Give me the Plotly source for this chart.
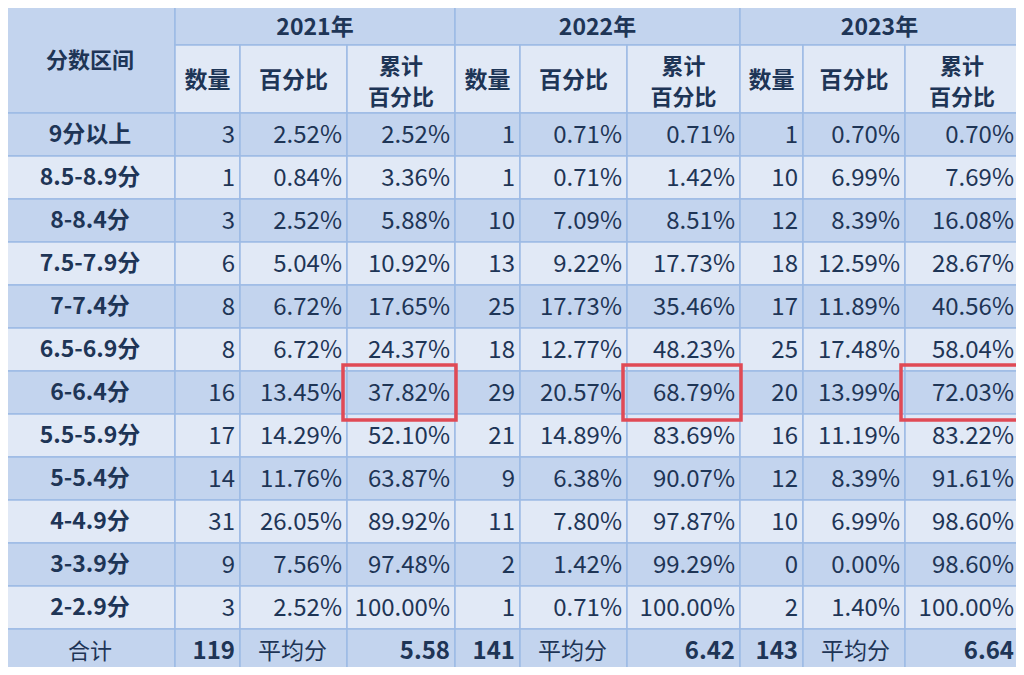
import plotly.graph_objects as go

# data
ranges = ["9分以上", "8.5-8.9分", "8-8.4分", "7.5-7.9分", "7-7.4分", "6.5-6.9分",
          "6-6.4分", "5.5-5.9分", "5-5.4分", "4-4.9分", "3-3.9分", "2-2.9分"]
years = ["2021年", "2022年", "2023年"]
count_2021 = [3, 1, 3, 6, 8, 8, 16, 17, 14, 31, 9, 3]
pct_2021 = ["2.52%", "0.84%", "2.52%", "5.04%", "6.72%", "6.72%", "13.45%", "14.29%", "11.76%", "26.05%", "7.56%", "2.52%"]
cum_2021 = ["2.52%", "3.36%", "5.88%", "10.92%", "17.65%", "24.37%", "37.82%", "52.10%", "63.87%", "89.92%", "97.48%", "100.00%"]
count_2022 = [1, 1, 10, 13, 25, 18, 29, 21, 9, 11, 2, 1]
pct_2022 = ["0.71%", "0.71%", "7.09%", "9.22%", "17.73%", "12.77%", "20.57%", "14.89%", "6.38%", "7.80%", "1.42%", "0.71%"]
cum_2022 = ["0.71%", "1.42%", "8.51%", "17.73%", "35.46%", "48.23%", "68.79%", "83.69%", "90.07%", "97.87%", "99.29%", "100.00%"]
count_2023 = [1, 10, 12, 18, 17, 25, 20, 16, 12, 10, 0, 2]
pct_2023 = ["0.70%", "6.99%", "8.39%", "12.59%", "11.89%", "17.48%", "13.99%", "11.19%", "8.39%", "6.99%", "0.00%", "1.40%"]
cum_2023 = ["0.70%", "7.69%", "16.08%", "28.67%", "40.56%", "58.04%", "72.03%", "83.22%", "91.61%", "98.60%", "98.60%", "100.00%"]
totals = [119, 141, 143]
averages = ["5.58", "6.42", "6.64"]
highlight_row = 6

# layout geometry (page pixels)
xe = [5, 175, 240, 347, 455, 520, 627, 740, 803, 905, 1019]
y_h1, y_h2, y_body = 5, 45, 113
rh = 43
n = len(ranges)
y_tot = y_body + rh * n
y_end = y_tot + 44

dark = "#c3d4ee"
light = "#e1e9f6"
grid = "#9dbbe5"
ink = "#1e3556"
FONT = "Noto Sans CJK SC"

fig = go.Figure()
shapes = []

def cell(x0, y0, x1, y1, color):
    shapes.append(dict(type="rect", xref="x", yref="y", x0=x0, x1=x1, y0=y0, y1=y1,
                       fillcolor=color, line=dict(color=grid, width=1.5), layer="below"))

# header
cell(xe[0], y_h1, xe[1], y_body, dark)
for k in range(3):
    cell(xe[1 + 3 * k], y_h1, xe[4 + 3 * k], y_h2, dark)
    for j in range(3):
        cell(xe[1 + 3 * k + j], y_h2, xe[2 + 3 * k + j], y_body, light)
# body
for i in range(n):
    c = dark if i % 2 == 0 else light
    for j in range(10):
        cell(xe[j], y_body + rh * i, xe[j + 1], y_body + rh * (i + 1), c)
for j in range(10):
    cell(xe[j], y_tot, xe[j + 1], y_end, dark)

# highlight boxes
for k in range(3):
    x0, x1 = xe[3 + 3 * k], xe[4 + 3 * k]
    y0 = y_body + rh * highlight_row
    shapes.append(dict(type="rect", xref="x", yref="y", x0=x0 - 4, x1=x1 + 1, y0=y0 - 6, y1=y0 + rh + 6,
                       line=dict(color="#e04a55", width=3.5)))

def txt(xs, ys, texts, pos, size=24, bold=False, color=ink):
    t = ["<b>%s</b>" % s for s in texts] if bold else [str(s) for s in texts]
    fig.add_trace(go.Scatter(x=xs, y=ys, text=t, mode="text", textposition=pos,
                             textfont=dict(family=FONT, size=size, color=color),
                             cliponaxis=False, hoverinfo="skip", showlegend=False))

mid = lambda a, b: (a + b) / 2
# header texts
txt([mid(xe[0], xe[1])], [62], ["分数区间"], "middle center", 22, True)
txt([mid(xe[1 + 3 * k], xe[4 + 3 * k]) for k in range(3)], [29] * 3, years, "middle center", 23, True)
for k in range(3):
    txt([mid(xe[1 + 3 * k], xe[2 + 3 * k]), mid(xe[2 + 3 * k], xe[3 + 3 * k])], [82, 82],
        ["数量", "百分比"], "middle center", 23, True)
    c = mid(xe[3 + 3 * k], xe[4 + 3 * k])
    txt([c, c], [68, 99], ["累计", "百分比"], "middle center", 22, True)

# body texts
ys = [y_body + rh * i + rh / 2 + 2 for i in range(n)]
txt([mid(xe[0], xe[1])] * n, ys, ranges, "middle center", 23, True)
cols = [count_2021, pct_2021, cum_2021, count_2022, pct_2022, cum_2022, count_2023, pct_2023, cum_2023]
for j, col in enumerate(cols):
    txt([xe[j + 2] - 5] * n, ys, col, "middle left", 24)

# total row
yt = (y_tot + y_end) / 2 + 2
txt([mid(xe[0], xe[1])], [yt], ["合计"], "middle center", 22)
for k in range(3):
    txt([xe[2 + 3 * k] - 5], [yt], [totals[k]], "middle left", 24, True)
    txt([xe[2 + 3 * k] + 18], [yt], ["平均分"], "middle right", 23)
    txt([xe[4 + 3 * k] - 5], [yt], [averages[k]], "middle left", 24, True)

# the page has an 8px body margin, so the plot starts at page pixel 8
fig.update_layout(
    width=1016, height=659, margin=dict(l=0, r=0, t=0, b=0),
    paper_bgcolor="white", plot_bgcolor="white", shapes=shapes,
    xaxis=dict(range=[8, 1024], visible=False, fixedrange=True),
    yaxis=dict(range=[667, 8], visible=False, fixedrange=True),
)
fig.write_html("out.html")
